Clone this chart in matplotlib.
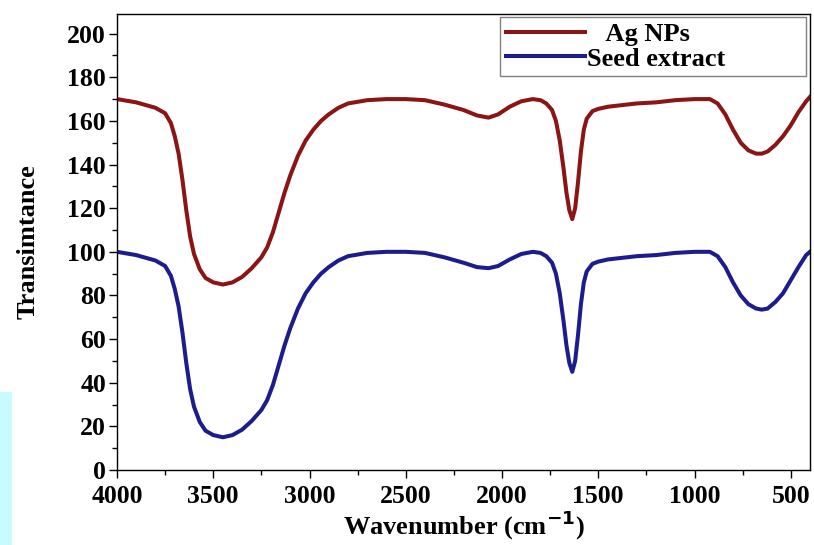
import matplotlib
matplotlib.use("Agg")
import matplotlib.pyplot as plt
from matplotlib.patches import Rectangle
from matplotlib.ticker import MultipleLocator

# FTIR spectra
wavenumber = [4000, 3900, 3800, 3750, 3720, 3700, 3680, 3660, 3640, 3620, 3600, 3570,
              3540, 3500, 3450, 3400, 3350, 3300, 3250, 3220, 3190, 3160, 3130, 3100,
              3060, 3020, 2980, 2940, 2900, 2850, 2800, 2700, 2600, 2500, 2400, 2300,
              2200, 2130, 2070, 2020, 1960, 1900, 1840, 1800, 1770, 1740, 1720, 1700,
              1680, 1665, 1650, 1635, 1620, 1605, 1590, 1575, 1560, 1530, 1500, 1450,
              1400, 1300, 1200, 1100, 1000, 920, 880, 840, 800, 760, 720, 680,
              650, 620, 580, 540, 500, 460, 420, 400]
ag_nps = [170, 168.5, 166, 163.5, 159, 153, 145, 133, 119, 107, 99, 92,
          88, 86, 85, 86, 88.5, 92.5, 97.5, 102, 109, 118, 127, 135,
          144, 151, 156, 160, 163, 166, 168, 169.5, 170, 170, 169.5, 167.5,
          165, 162.5, 161.5, 163, 166.5, 169, 170, 169.5, 168, 165, 160, 151,
          138, 127, 119, 115, 120, 132, 146, 156, 161, 164.5, 165.5, 166.5,
          167, 168, 168.5, 169.5, 170, 170, 168, 163, 156, 150, 146.5, 145,
          145, 146, 149, 153, 158, 164, 169, 171]
seed_extract = [100, 98.5, 96, 93.5, 89, 83, 75, 63, 49, 37, 29, 22,
                18, 16, 15, 16, 18.5, 22.5, 27.5, 32, 39, 48, 57, 65,
                74, 81, 86, 90, 93, 96, 98, 99.5, 100, 100, 99.5, 97.5,
                95, 93, 92.5, 93.5, 96.5, 99, 100, 99.5, 98, 95, 90, 81,
                68, 57, 49, 45, 50, 62, 76, 86, 91, 94.5, 95.5, 96.5,
                97, 98, 98.5, 99.5, 100, 100, 98, 93, 86, 80, 76, 74,
                73.5, 74, 77, 81, 87, 93, 98.5, 100]

RED = "#8b1414"
BLUE = "#1c1c8c"
FONT = "Liberation Serif"

plt.rcParams["font.family"] = FONT
plt.rcParams["font.weight"] = "bold"

fig = plt.figure(figsize=(8.14, 5.45), dpi=100)
ax = fig.add_axes([117/814, 1 - 470/545, (810-117)/814, (470-14)/545])

ax.plot(wavenumber, ag_nps, color=RED, lw=2.9, label="   Ag NPs")
ax.plot(wavenumber, seed_extract, color=BLUE, lw=2.9, label="Seed extract")

ax.set_xlim(4000, 400)
ax.set_ylim(0, 209)
ax.xaxis.set_major_locator(MultipleLocator(500))
ax.xaxis.set_minor_locator(MultipleLocator(250))
ax.yaxis.set_major_locator(MultipleLocator(20))
ax.yaxis.set_minor_locator(MultipleLocator(10))
ax.tick_params(which="major", direction="out", length=6, width=1, labelsize=18.5, pad=2)
ax.tick_params(axis="x", which="major", pad=5)
ax.tick_params(which="minor", direction="out", length=3.5, width=1)
for s in ax.spines.values():
    s.set_linewidth(1)

ax.set_xlabel("Wavenumber (cm$^{\\mathbf{-1}}$)", fontsize=19, fontweight="bold", labelpad=0)
ax.set_ylabel("Transimtance", fontsize=19, fontweight="bold", labelpad=20)

leg = ax.legend(loc="upper left", bbox_to_anchor=(0.553, 0.849, 0.441, 0.144),
                mode="expand", fancybox=False, edgecolor="#808080", framealpha=1,
                handlelength=3.0, handletextpad=0.1, borderaxespad=0, borderpad=0.2,
                labelspacing=0.05, prop={"family": FONT, "weight": "bold", "size": 19})
leg.get_frame().set_linewidth(1)

# pale cyan strip in the lower left corner of the original image
fig.patches.append(Rectangle((0, 0), 12/814, 153/545, transform=fig.transFigure,
                             facecolor="#c8fbff", edgecolor="none", zorder=0))

fig.savefig("out.png", dpi=100)
